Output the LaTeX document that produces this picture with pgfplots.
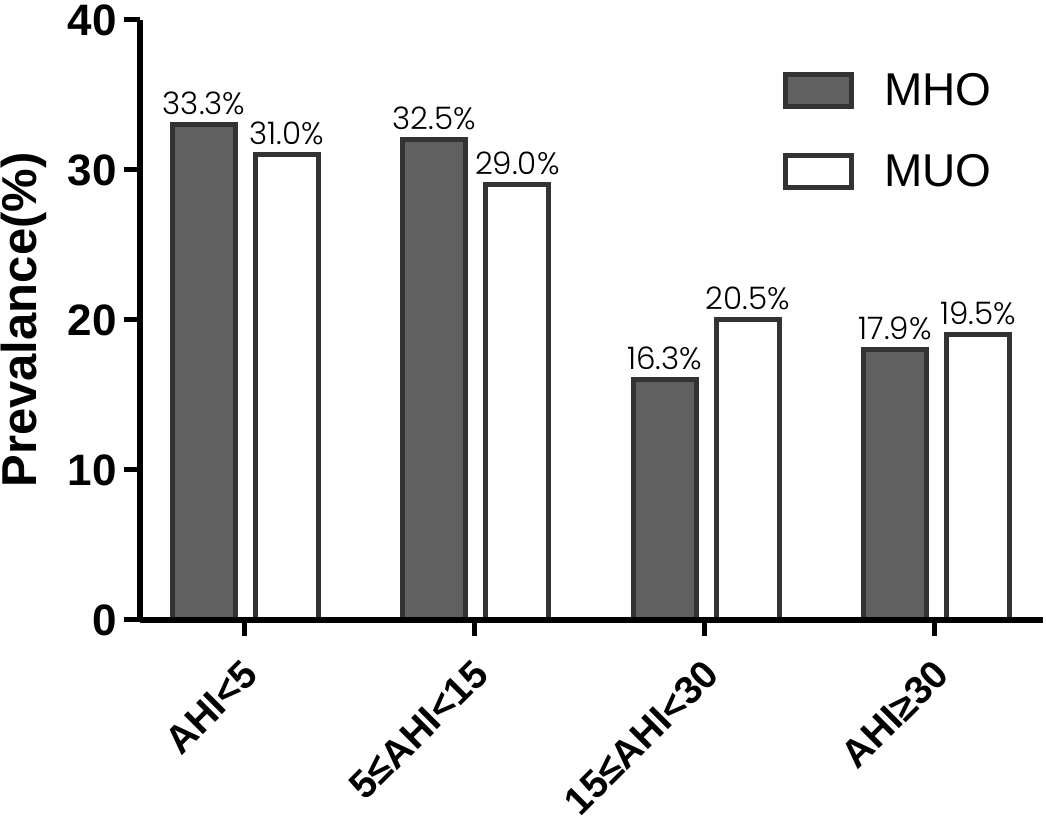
\documentclass[border=0pt]{standalone}
\usepackage{fontspec}
\setmainfont{Liberation Sans}
\newfontfamily\pop{Poppins Light}
\usepackage{pgfplots}
\pgfplotsset{compat=1.18}
\definecolor{mho}{RGB}{96,96,96}
\definecolor{bord}{RGB}{51,51,51}
\begin{document}
\begin{tikzpicture}
\begin{axis}[
 scale only axis, width=451.5pt, height=300pt,
 xmin=-0.4516, xmax=3.469, ymin=0, ymax=40,
 axis x line=bottom, axis y line=left,
 axis line style={line width=3pt, black, -},
 axis on top,
 ytick={0,10,20,30,40},
 xtick={0,1,2,3},
 xticklabels={AHI<5, 5≤AHI<15, 15≤AHI<30, AHI≥30},
 tick align=outside,
 major tick length=8pt,
 tick style={line width=2.5pt, black},
 /pgf/number format/assume math mode=true,
 xticklabel style={font=\fontsize{19.5}{22}\selectfont\bfseries, xshift=3.5pt, yshift=-15.75pt, rotate=45, anchor=east, inner sep=0pt},
 yticklabel style={font=\fontsize{22}{24}\selectfont\bfseries, inner sep=0pt, xshift=-3.5pt},
 ylabel={Prevalance(\%)},
 every axis y label/.style={at={(axis description cs:0,0.5)}, rotate=90, anchor=center, inner sep=0pt, yshift=58pt, font=\fontsize{24.5}{28}\selectfont\bfseries},
 ybar,
 bar width=31.5pt,
 nodes near coords, point meta=explicit symbolic,
 every node near coord/.append style={font=\pop\fontsize{15.5}{17}\selectfont, anchor=south, inner sep=4pt, text=black},
 legend style={at={(0.712,0.922)}, anchor=north west, draw=none, fill=none, font=\fontsize{23}{26}\selectfont, row sep=17pt, inner sep=0pt, nodes={inner sep=3pt}, /tikz/every odd column/.append style={column sep=12pt}},
 legend cell align=left,
]
\addplot[fill=mho, draw=bord, line width=2.5pt, bar shift=-20pt,
  legend image code/.code={\draw[fill=mho, draw=bord, line width=2.5pt] (0pt,-8pt) rectangle (33pt,8pt);}]
  coordinates {(0,33) [33.3\%] (1,32) [32.5\%] (2,16) [16.3\%] (3,18) [17.9\%]};
\addplot[fill=white, draw=bord, line width=2.5pt, bar shift=21.5pt,
  legend image code/.code={\draw[fill=white, draw=bord, line width=2.5pt] (0pt,-8pt) rectangle (33pt,8pt);}]
  coordinates {(0,31) [31.0\%] (1,29) [29.0\%] (2,20) [20.5\%] (3,19) [19.5\%]};
\legend{MHO, MUO}
\end{axis}
\pgfresetboundingbox
\path[use as bounding box] ([xshift=-70pt,yshift=-99pt]current axis.south west) rectangle ([xshift=1.5pt,yshift=10pt]current axis.north east);
\end{tikzpicture}
\end{document}
